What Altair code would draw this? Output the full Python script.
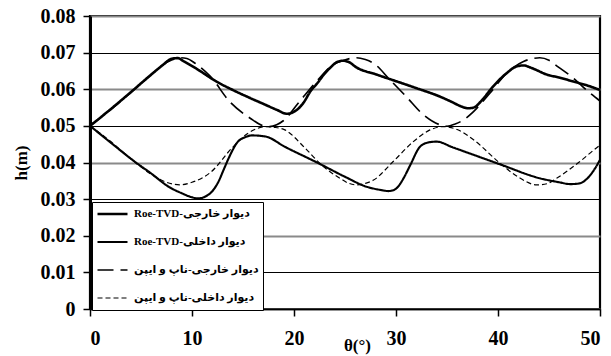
import altair as alt
import pandas as pd

# ---- data ----
names = [
    "Roe-TVD-دیوار خارجی",
    "Roe-TVD-دیوار داخلی",
    "دیوار خارجی-ناپ و ایپن",
    "دیوار داخلی-ناپ و ایپن",
]

theta_roe_out = [0, 2, 4, 6, 7, 8, 8.6, 9.2, 10.5, 12.4, 14, 15.7, 17, 18.3, 19.3, 20.3, 21, 21.6,
                 22.3, 22.9, 23.6, 24.2, 24.8, 25.4, 26.1, 28, 30, 32, 34.3, 35.5, 36.4, 37.1, 37.7,
                 38.3, 39.5, 40.85, 41.8, 42.5, 43.3, 44.8, 46, 47.4, 49, 50]
h_roe_out = [0.0500, 0.0545, 0.0592, 0.0640, 0.0663, 0.0683, 0.0685, 0.0676, 0.0655, 0.0621, 0.0598,
             0.0576, 0.0560, 0.0544, 0.0533, 0.0544, 0.0566, 0.0594, 0.0617, 0.0639, 0.0660, 0.0674,
             0.0678, 0.0674, 0.0660, 0.0641, 0.0622, 0.0603, 0.0580, 0.0565, 0.0553, 0.0548, 0.0551,
             0.0566, 0.0607, 0.0644, 0.0662, 0.0665, 0.0658, 0.0640, 0.0632, 0.0621, 0.0608, 0.0598]

theta_roe_in = [0, 2, 4.4, 6, 7.7, 9, 10.0, 10.6, 11.3, 12, 12.6, 13.1, 13.6, 14.5, 15.2, 15.85, 17.2,
                19.1, 22.4, 25, 27.1, 28.5, 29.25, 29.8, 30.2, 30.8, 31.4, 32.35, 33.2, 34.0, 35.5,
                37.6, 40.2, 44.1, 46, 47.1, 48.0, 48.7, 49.3, 50]
h_roe_in = [0.0500, 0.0455, 0.0402, 0.0370, 0.0334, 0.0316, 0.0305, 0.0302, 0.0307, 0.0322, 0.0348,
            0.0380, 0.0412, 0.0457, 0.0469, 0.0474, 0.0471, 0.0443, 0.0398, 0.0361, 0.0334, 0.0325,
            0.0322, 0.0325, 0.0334, 0.0360, 0.0393, 0.0443, 0.0455, 0.0457, 0.0442, 0.0421, 0.0395,
            0.0357, 0.0346, 0.0341, 0.0343, 0.0355, 0.0375, 0.0407]

theta_nap_out = [0, 2, 4, 6, 7, 8, 8.8, 9.5, 10.3, 11.8, 13.7, 15.7, 17.0, 17.6, 18.3, 18.95, 20.5,
                 22.2, 23.85, 24.8, 25.5, 26.1, 27.0, 27.8, 29.4, 31.0, 32.7, 34.3, 35.0, 35.8, 36.6,
                 37.6, 39.2, 40.85, 42.5, 43.3, 44.1, 45.0, 45.75, 47.4, 49.0, 50]
h_nap_out = [0.0500, 0.0544, 0.0591, 0.0640, 0.0664, 0.0680, 0.0686, 0.0684, 0.0671, 0.0635, 0.0566,
             0.0521, 0.0500, 0.0498, 0.0503, 0.0514, 0.0565, 0.0621, 0.0667, 0.0678, 0.0684, 0.0686,
             0.0681, 0.0671, 0.0626, 0.0580, 0.0530, 0.0503, 0.0499, 0.0505, 0.0516, 0.0539, 0.0589,
             0.0644, 0.0676, 0.0683, 0.0686, 0.0679, 0.0664, 0.0630, 0.0590, 0.0568]

theta_nap_in = [0, 2, 4, 6, 7.5, 8.8, 10, 11.9, 13.9, 15.5, 16.4, 17.2, 18.1, 19.1, 21.1, 22.7, 24.5,
                25.3, 26.1, 27.0, 27.8, 29.7, 31.7, 33.2, 34.6, 36.0, 37.6, 40.2, 42.0, 43.8, 44.8,
                45.75, 48.0, 49.8, 50]
h_nap_in = [0.0500, 0.0458, 0.0410, 0.0368, 0.0346, 0.0339, 0.0346, 0.0375, 0.0439, 0.0480, 0.0493,
            0.0498, 0.0496, 0.0489, 0.0439, 0.0393, 0.0357, 0.0344, 0.0339, 0.0343, 0.0352, 0.0402,
            0.0457, 0.0487, 0.0498, 0.0490, 0.0462, 0.0398, 0.0360, 0.0339, 0.0342, 0.0357, 0.0402,
            0.0443, 0.0447]

x_ticks = [0, 10, 20, 30, 40, 50]
y_ticks = [0, 0.01, 0.02, 0.03, 0.04, 0.05, 0.06, 0.07, 0.08]

series = [
    (names[0], theta_roe_out, h_roe_out),
    (names[1], theta_roe_in, h_roe_in),
    (names[2], theta_nap_out, h_nap_out),
    (names[3], theta_nap_in, h_nap_in),
]
rows = []
for name, xs, ys in series:
    for i, (a, b) in enumerate(zip(xs, ys)):
        rows.append({"series": name, "theta": a, "h": b, "order": i})
df = pd.DataFrame(rows)

FONT = "Liberation Serif, DejaVu Sans"

legend = alt.Legend(
    title=None, orient="none", legendX=2, legendY=186,
    fillColor="white", strokeColor="black", padding=4,
    symbolType="stroke", symbolSize=900, symbolStrokeColor="black",
    clipHeight=16, rowPadding=12,
    labelFont=FONT, labelFontSize=11, labelFontWeight="bold", labelColor="black",
    labelLimit=300, labelOffset=5,
)

odd = "round(datum.value*100) % 2 == 1"

chart = alt.Chart(df).mark_line(interpolate="monotone", color="black").encode(
    x=alt.X("theta:Q", scale=alt.Scale(domain=[0, 50], nice=False),
            axis=alt.Axis(values=x_ticks, format="d", title="θ(°)",
                          titleX=267, titleY=28, titleBaseline="top", titleAlign="center",
                          titleFontSize=17, labelPadding=12, grid=False,
                          domainWidth=1.5)),
    y=alt.Y("h:Q", scale=alt.Scale(domain=[0, 0.08], nice=False),
            axis=alt.Axis(values=y_ticks, format=".2~f", title="h(m)",
                          titleFontSize=17, titlePadding=10, labelPadding=8,
                          domainWidth=3,
                          gridColor={"condition": {"test": odd, "value": "black"}, "value": "#8a8a8a"},
                          gridWidth={"condition": {"test": odd, "value": 1}, "value": 1.8})),
    strokeDash=alt.StrokeDash("series:N", sort=None,
                              scale=alt.Scale(domain=names, range=[[1, 0], [1, 0], [16, 7], [5, 3]]),
                              legend=legend),
    strokeWidth=alt.StrokeWidth("series:N", sort=None,
                                scale=alt.Scale(domain=names, range=[2.6, 1.2, 3.0, 0.9]),
                                legend=legend),
    order="order:Q",
).properties(
    width=510, height=293,
    background="white",
    padding={"left": 90, "top": 16, "right": 11, "bottom": 47},
    autosize=alt.AutoSizeParams(type="none"),
).configure_view(
    stroke="black", strokeWidth=2.2
).configure_axis(
    labelFont=FONT, titleFont=FONT, labelFontSize=20, labelFontWeight="bold",
    titleFontWeight="bold", labelColor="black", titleColor="black",
    domainColor="black", tickColor="black", tickSize=7, tickWidth=1.5,
)

chart.save("out.html", embed_options={"renderer": "svg", "actions": False})
